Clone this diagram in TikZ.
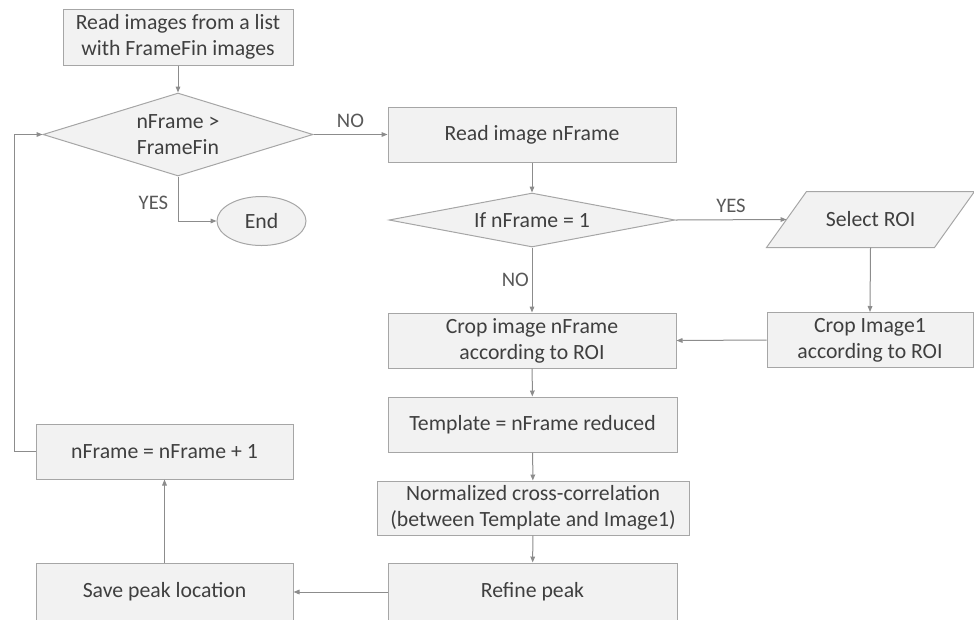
\documentclass[tikz,border=0pt]{standalone}
\usepackage{fontspec}
\setmainfont{Carlito}
\usepackage{tikz}
\usetikzlibrary{arrows.meta, positioning, shapes.geometric, calc, backgrounds}

\definecolor{boxfill}{HTML}{F2F2F2}
\definecolor{boxline}{HTML}{A6A6A6}
\definecolor{txtgray}{HTML}{3F3F3F}
\definecolor{arrgray}{HTML}{8C8C8C}
\definecolor{labgray}{HTML}{595959}

\tikzset{
  base/.style={draw=boxline, fill=boxfill, line width=0.75pt, text=txtgray,
    font=\fontsize{16.3}{19.5}\selectfont, align=center, inner sep=2pt},
  procbox/.style={base, rectangle, minimum height=41.25pt},
  decision/.style={base, diamond, inner sep=0pt},
  terminal/.style={base, ellipse, inner sep=0pt},
  flow/.style={draw=arrgray, line width=0.75pt, -{Triangle[length=4.5pt, width=3.5pt]}},
  tag/.style={text=labgray, font=\fontsize{15.5}{18}\selectfont, inner sep=2pt},
}

\begin{document}
\begin{tikzpicture}[x=0.75pt, y=-0.75pt]
\useasboundingbox (0,0) rectangle (974,619);
\clip (0,0) rectangle (974,619);

% ── Left column: loop control ─────────────────────────────────────
\node[procbox, minimum width=172.5pt, minimum height=42pt] (readlist) at (178,37)
    {Read images from a list\\with FrameFin images};
\node[decision, aspect=3.25, minimum width=202.5pt, minimum height=62.25pt] (check) at (178,134.5)
    {nFrame >\\FrameFin};
\node[terminal, minimum width=66.75pt, minimum height=36.75pt] (end) at (261.5,221) {End};
\node[procbox, minimum width=192.75pt] (incr) at (164.5,451.5) {nFrame = nFrame + 1};
\node[procbox, minimum width=192.75pt, minimum height=43.5pt] (save) at (164.5,592)
    {Save peak location};

% ── Middle column: per-frame processing ───────────────────────────
\node[procbox, minimum width=216pt] (readimg) at (532,134.5) {Read image nFrame};
\node[decision, aspect=5.3, minimum width=214.5pt, minimum height=40.5pt] (first) at (532,220)
    {If nFrame = 1};
\node[procbox, minimum width=216pt] (cropimg) at (532,340.5)
    {Crop image nFrame\\according to ROI};
\node[procbox, minimum width=216.75pt] (template) at (532.5,424.5) {Template = nFrame reduced};
\node[procbox, minimum width=234pt, minimum height=40.5pt] (ncc) at (533,508)
    {Normalized cross-correlation\\(between Template and Image1)};
\node[procbox, minimum width=216.75pt, minimum height=43.5pt] (refine) at (532.5,592)
    {Refine peak};

% ── Right column: ROI on first frame ──────────────────────────────
\node[base, draw=none, fill=none, minimum width=125.25pt, minimum height=41.25pt] (selroi)
    at (870.5,219.5) {Select ROI};
\begin{scope}[on background layer]
  \draw[draw=boxline, fill=boxfill, line width=0.75pt]
      ($(selroi.south west)+(-20,0)$) -- ($(selroi.north west)+(20,0)$)
      -- ($(selroi.north east)+(20,0)$) -- ($(selroi.south east)+(-20,0)$) -- cycle;
\end{scope}
\node[procbox, minimum width=154.5pt] (crop1) at (870,340)
    {Crop Image1\\according to ROI};

% Connectors
\draw[flow] (readlist) -- (check);
\draw[flow] (check.east) -- (readimg.west)
    node[tag, midway, above, yshift=3pt] {NO};
\draw[flow] (check.south) |- (end.west)
    node[tag, pos=0.3, left, xshift=-5pt] {YES};
\draw[flow] (readimg) -- (first);
\draw[flow] (first.east) -- (selroi.west)
    node[tag, midway, above, yshift=3pt] {YES};
\draw[flow] (first.south) -- (cropimg.north)
    node[tag, midway, left] {NO};
\draw[flow] (selroi.south) -- (crop1.north);
\draw[flow] (crop1.west) -- (cropimg.east);
\draw[flow] (cropimg) -- (template);
\draw[flow] (template) -- (ncc);
\draw[flow] (ncc) -- (refine);
\draw[flow] (refine.west) -- (save.east);
\draw[flow] (save.north) -- (incr.south);

% Back to the loop test
\coordinate (loopturn) at (14,451.5);
\draw[flow] (incr.west) -- (loopturn) |- (check.west);

\end{tikzpicture}
\end{document}
